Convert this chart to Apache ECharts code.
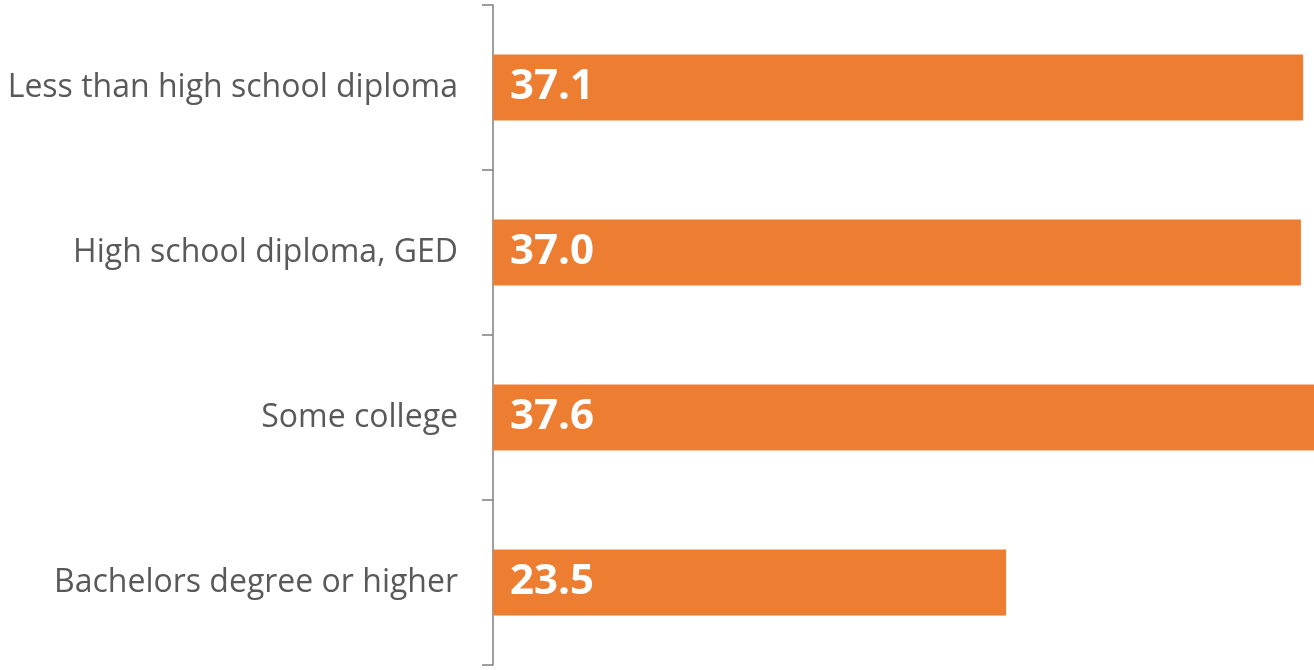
<!DOCTYPE html>
<html>
<head>
<meta charset="utf-8">
<title>Education</title>
<script src="https://cdn.jsdelivr.net/npm/echarts@6/dist/echarts.min.js"></script>
<style>
  html, body { margin: 0; padding: 0; background: #fff; }
  #main { width: 1314px; height: 670px; }
</style>
</head>
<body>
<div id="main"></div>
<script>
// categories, top to bottom
var categories = ['Less than high school diploma', 'High school diploma, GED', 'Some college', 'Bachelors degree or higher'];
var values = [37.1, 37.0, 37.6, 23.5];

var myChart = echarts.init(document.getElementById('main'));
var option = {
    animation: false,
    grid: { left: 493, right: 0, top: 5, bottom: 5 },
    xAxis: {
        type: 'value',
        min: 0,
        max: 37.6,
        show: false
    },
    yAxis: {
        type: 'category',
        inverse: true,
        data: categories,
        axisLine: { lineStyle: { color: '#7f7f7f', width: 1.5 } },
        axisTick: { show: true, length: 11, lineStyle: { color: '#7f7f7f', width: 1.5 } },
        axisLabel: {
            margin: 35,
            color: '#595959',
            fontSize: 32,
            fontFamily: 'Open Sans'
        }
    },
    series: [{
        type: 'bar',
        data: values,
        barWidth: 66,
        itemStyle: { color: '#ED7D31' },
        label: {
            show: true,
            position: 'insideLeft',
            distance: 17,
            color: '#fff',
            fontSize: 42,
            fontWeight: 'bold',
            fontFamily: 'Open Sans',
            formatter: function (p) { return p.value.toFixed(1); }
        }
    }]
};
myChart.setOption(option);
</script>
</body>
</html>
